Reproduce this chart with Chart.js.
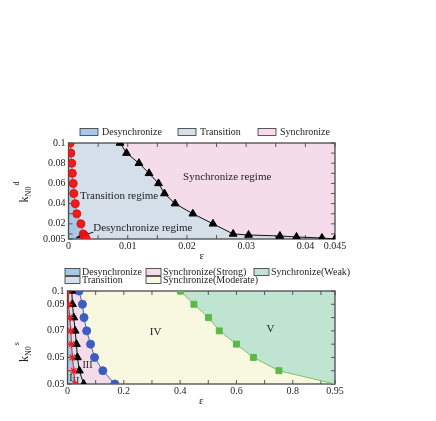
<!DOCTYPE html>
<html>
<head>
<meta charset="utf-8">
<script src="https://cdn.jsdelivr.net/npm/chart.js@4.4.1/dist/chart.umd.min.js"></script>
<style>
  html, body { margin: 0; padding: 0; background: #fff; }
  #wrap { position: relative; width: 436px; height: 421px; }
  canvas { position: absolute; left: 0; }
  #top { top: 120px; }
  #bottom { top: 262px; }
</style>
</head>
<body>
<div id="wrap">
  <canvas id="top" width="436" height="142"></canvas>
  <canvas id="bottom" width="436" height="159"></canvas>
</div>
<script>
// upper panel: k_N0^d against eps
const topLevels = [0.1, 0.09, 0.08, 0.07, 0.06, 0.05, 0.04, 0.03, 0.02, 0.01, 0.009, 0.008, 0.007, 0.006, 0.005];
const topDesyncEps = [0.0003, 0.0004, 0.00055, 0.00065, 0.0008, 0.0009, 0.00115, 0.0014, 0.0021, 0.0025, 0.0026, 0.0027, 0.0028, 0.0029, 0.003];
const topSyncEps = [0.0087, 0.0098, 0.0119, 0.0136, 0.0152, 0.0162, 0.018, 0.021, 0.0244, 0.0278, 0.0304, 0.0357, 0.0385, 0.0428, 0.045];
const topXLabels = [0, 0.01, 0.02, 0.03, 0.04, 0.045];
const topXMarks = [0.005, 0.015, 0.025, 0.035];
const topYLabels = [0.005, 0.02, 0.04, 0.06, 0.08, 0.1];
const topYMarks = [0.01, 0.03, 0.05, 0.07, 0.09];
const topLegendLabels = ['Desynchronize', 'Transition', 'Synchronize'];

// lower panel: k_N0^s against eps
const bottomLevels = [0.1, 0.09, 0.08, 0.07, 0.06, 0.05, 0.04, 0.03];
const bottomDesyncEps = [0.0023, 0.0035, 0.0082, 0.0117, 0.0141, 0.0176, 0.0223, 0.027];
const bottomTransEps = [0.0152, 0.0176, 0.0223, 0.027, 0.0317, 0.0352, 0.0422, 0.0575];
const bottomStrongEps = [0.041, 0.053, 0.0587, 0.068, 0.082, 0.096, 0.1255, 0.168];
const bottomModerateEps = [0.401, 0.449, 0.501, 0.539, 0.6, 0.66, 0.751, 0.95];
const bottomXLabels = [0, 0.2, 0.4, 0.6, 0.8, 0.95];
const bottomXMarks = [0.1, 0.3, 0.5, 0.7, 0.9];
const bottomYLabels = [0.03, 0.05, 0.07, 0.09, 0.1];
const bottomYMarks = [0.04, 0.06, 0.08];
const bottomLegendLabels = ['Desynchronize', 'Synchronize(Strong)', 'Synchronize(Weak)', 'Transition', 'Synchronize(Moderate)'];

const SERIF = '"Liberation Serif", "Times New Roman", serif';
const DESYNC = '#a8c8e8';
const TRANS = '#d5dfea';
const SYNC = '#f5dcea';
const MODERATE = '#f8f8e1';
const WEAK = '#bfe4d2';

Chart.defaults.font.family = SERIF;
Chart.defaults.font.size = 10;
Chart.defaults.color = '#222';

function curve(eps, levels, opts) {
  return Object.assign({
    data: levels.map((k, i) => ({ x: eps[i], y: k })),
    borderWidth: 1,
    pointBorderWidth: 1,
    pointHoverRadius: 4,
  }, opts);
}

function setTicks(values) {
  return (scale) => {
    scale.ticks = values.map((v) => ({ value: v }));
  };
}

// background, frame, inward tick marks, notes, box legend and y title
const panelDecor = {
  id: 'panelDecor',
  beforeDraw(chart, args, opts) {
    const { ctx, chartArea: a } = chart;
    ctx.save();
    ctx.fillStyle = opts.background;
    ctx.fillRect(a.left, a.top, a.width, a.height);
    ctx.restore();
  },
  beforeDatasetsDraw(chart, args, opts) {
    const { ctx, chartArea: a, scales: { x, y } } = chart;
    ctx.save();

    ctx.fillStyle = '#222';
    ctx.textAlign = 'center';
    ctx.textBaseline = 'middle';
    opts.notes.forEach((n) => {
      ctx.font = n.size + 'px ' + SERIF;
      ctx.fillText(n.text, x.getPixelForValue(n.x), y.getPixelForValue(n.y));
    });

    if (opts.arrow) {
      const x0 = x.getPixelForValue(opts.arrow.from[0]);
      const y0 = y.getPixelForValue(opts.arrow.from[1]);
      const x1 = x.getPixelForValue(opts.arrow.to[0]);
      const y1 = y.getPixelForValue(opts.arrow.to[1]);
      const ang = Math.atan2(y1 - y0, x1 - x0);
      ctx.strokeStyle = '#111';
      ctx.lineWidth = 1;
      ctx.beginPath();
      ctx.moveTo(x0, y0);
      ctx.lineTo(x1, y1);
      ctx.stroke();
      ctx.fillStyle = '#111';
      ctx.beginPath();
      ctx.moveTo(x1, y1);
      ctx.lineTo(x1 - 7 * Math.cos(ang - 0.4), y1 - 7 * Math.sin(ang - 0.4));
      ctx.lineTo(x1 - 7 * Math.cos(ang + 0.4), y1 - 7 * Math.sin(ang + 0.4));
      ctx.closePath();
      ctx.fill();
    }

    ctx.strokeStyle = '#555';
    ctx.lineWidth = 1;
    ctx.beginPath();
    opts.xMarks.forEach((v) => {
      const px = x.getPixelForValue(v);
      ctx.moveTo(px, a.bottom);
      ctx.lineTo(px, a.bottom - 4);
      ctx.moveTo(px, a.top);
      ctx.lineTo(px, a.top + 4);
    });
    opts.yMarks.forEach((v) => {
      const py = y.getPixelForValue(v);
      ctx.moveTo(a.left, py);
      ctx.lineTo(a.left + 4, py);
      ctx.moveTo(a.right, py);
      ctx.lineTo(a.right - 4, py);
    });
    ctx.stroke();

    ctx.strokeStyle = '#4a4a4a';
    ctx.lineWidth = 1.3;
    ctx.strokeRect(a.left, a.top, a.width, a.height);
    ctx.restore();
  },
  afterDraw(chart, args, opts) {
    const ctx = chart.ctx;
    const lg = opts.legend;
    ctx.save();
    ctx.font = '10px ' + SERIF;
    ctx.textBaseline = 'middle';
    ctx.textAlign = 'left';
    lg.labels.forEach((text, i) => {
      const [bx, by] = lg.pos[i];
      ctx.fillStyle = lg.colors[i];
      ctx.fillRect(bx, by - lg.boxH / 2, lg.boxW, lg.boxH);
      ctx.strokeStyle = '#333';
      ctx.lineWidth = 0.8;
      ctx.strokeRect(bx, by - lg.boxH / 2, lg.boxW, lg.boxH);
      ctx.fillStyle = '#222';
      ctx.fillText(text, bx + lg.boxW + lg.gap, by);
    });

    // y title: k with subscript N0 and a superscript
    const t = opts.yTitle;
    ctx.translate(t.x, t.y);
    ctx.rotate(-Math.PI / 2);
    ctx.textBaseline = 'alphabetic';
    ctx.font = '12px ' + SERIF;
    const wk = ctx.measureText('k').width;
    ctx.font = '8px ' + SERIF;
    const wn = ctx.measureText('N0').width;
    const ws = ctx.measureText(t.sup).width;
    let cx = -(wk + wn + 1 + ws) / 2;
    ctx.fillStyle = '#222';
    ctx.font = '12px ' + SERIF;
    ctx.fillText('k', cx, 4);
    cx += wk;
    ctx.font = '8px ' + SERIF;
    ctx.fillText('N0', cx, 7);
    cx += wn + 1;
    ctx.fillText(t.sup, cx, -5);
    ctx.restore();
  },
};

function axes(xMin, xMax, xLabels, yMin, yMax, yLabels) {
  return {
    x: {
      type: 'linear',
      min: xMin,
      max: xMax,
      afterBuildTicks: setTicks(xLabels),
      grid: { display: false, drawTicks: false },
      border: { display: false },
      ticks: { padding: 2, font: { size: 10, lineHeight: 1 }, callback: (v) => String(v), maxRotation: 0 },
      title: { display: true, text: 'ε', font: { size: 11, lineHeight: 1 }, padding: { top: -2, bottom: 0 } },
    },
    y: {
      type: 'linear',
      min: yMin,
      max: yMax,
      afterBuildTicks: setTicks(yLabels),
      grid: { display: false, drawTicks: false },
      border: { display: false },
      ticks: { padding: 3, font: { size: 10 }, callback: (v) => String(v) },
    },
  };
}

const topChart = new Chart(document.getElementById('top'), {
  type: 'line',
  data: {
    datasets: [
      curve(topDesyncEps, topLevels, {
        borderColor: '#e85a5a',
        pointBackgroundColor: '#ee1c1c',
        pointBorderColor: '#d81414',
        pointRadius: 4,
        fill: { value: 0 },
        backgroundColor: DESYNC,
      }),
      curve(topSyncEps, topLevels, {
        borderColor: '#111',
        pointStyle: 'triangle',
        pointBackgroundColor: '#000',
        pointBorderColor: '#000',
        pointRadius: 4.5,
        fill: { value: 0 },
        backgroundColor: TRANS,
      }),
    ],
  },
  options: {
    responsive: false,
    animation: false,
    indexAxis: 'y',
    devicePixelRatio: 1,
    layout: { padding: { left: 40, right: 101, top: 23, bottom: 0 } },
    scales: axes(0, 0.045, topXLabels, 0.005, 0.1, topYLabels),
    plugins: {
      legend: { display: false },
      tooltip: { enabled: false },
      filler: { drawTime: 'beforeDatasetsDraw' },
      panelDecor: {
        background: SYNC,
        xMarks: topXLabels.concat(topXMarks),
        yMarks: topYLabels.concat(topYMarks),
        notes: [
          { text: 'Synchronize regime', x: 0.0268, y: 0.0667, size: 11 },
          { text: 'Transition regime', x: 0.00855, y: 0.0474, size: 11 },
          { text: 'Desynchronize regime', x: 0.01255, y: 0.0157, size: 11 },
        ],
        arrow: { from: [0.0042, 0.0118], to: [0.0013, 0.0063] },
        legend: {
          labels: topLegendLabels,
          colors: [DESYNC, TRANS, SYNC],
          pos: [[80, 12], [178, 12], [258, 12]],
          boxW: 18,
          boxH: 7,
          gap: 4,
        },
        yTitle: { x: 24, y: 72, sup: 'd' },
      },
    },
  },
  plugins: [panelDecor],
});

const bottomChart = new Chart(document.getElementById('bottom'), {
  type: 'line',
  data: {
    datasets: [
      curve(bottomDesyncEps, bottomLevels, {
        borderColor: '#e8202a',
        pointStyle: 'star',
        pointBorderColor: '#e8202a',
        pointBorderWidth: 1.2,
        pointRadius: 4,
        fill: { value: 0 },
        backgroundColor: DESYNC,
      }),
      curve(bottomTransEps, bottomLevels, {
        borderColor: '#111',
        pointStyle: 'triangle',
        pointBackgroundColor: '#000',
        pointBorderColor: '#000',
        pointRadius: 4.5,
        fill: { value: 0 },
        backgroundColor: TRANS,
      }),
      curve(bottomStrongEps, bottomLevels, {
        borderColor: '#4462c4',
        pointBackgroundColor: '#3d5cc0',
        pointBorderColor: '#3d5cc0',
        pointRadius: 4,
        fill: { value: 0 },
        backgroundColor: SYNC,
      }),
      curve(bottomModerateEps, bottomLevels, {
        borderColor: '#7cc462',
        pointStyle: 'rect',
        pointBackgroundColor: '#5cb848',
        pointBorderColor: '#5cb848',
        pointRadius: [4.2, 4.2, 4.2, 4.2, 4.2, 4.2, 4.2, 0],
        fill: { value: 0 },
        backgroundColor: MODERATE,
      }),
    ],
  },
  options: {
    responsive: false,
    animation: false,
    indexAxis: 'y',
    devicePixelRatio: 1,
    layout: { padding: { left: 44, right: 101, top: 29, bottom: 14 } },
    scales: axes(0, 0.95, bottomXLabels, 0.03, 0.1, bottomYLabels),
    plugins: {
      legend: { display: false },
      tooltip: { enabled: false },
      filler: { drawTime: 'beforeDatasetsDraw' },
      panelDecor: {
        background: WEAK,
        xMarks: bottomXLabels.concat(bottomXMarks),
        yMarks: bottomYLabels.concat(bottomYMarks),
        notes: [
          { text: 'I', x: 0.012, y: 0.0342, size: 10 },
          { text: 'II', x: 0.03, y: 0.0322, size: 10 },
          { text: 'III', x: 0.071, y: 0.044, size: 10 },
          { text: 'IV', x: 0.313, y: 0.069, size: 11 },
          { text: 'V', x: 0.721, y: 0.0711, size: 11 },
        ],
        arrow: null,
        legend: {
          labels: bottomLegendLabels,
          colors: [DESYNC, SYNC, WEAK, TRANS, MODERATE],
          pos: [[65, 10], [146, 10], [254, 10], [65, 18], [146, 18]],
          boxW: 15,
          boxH: 7,
          gap: 2,
        },
        yTitle: { x: 24, y: 90, sup: 's' },
      },
    },
  },
  plugins: [panelDecor],
});
</script>
</body>
</html>
